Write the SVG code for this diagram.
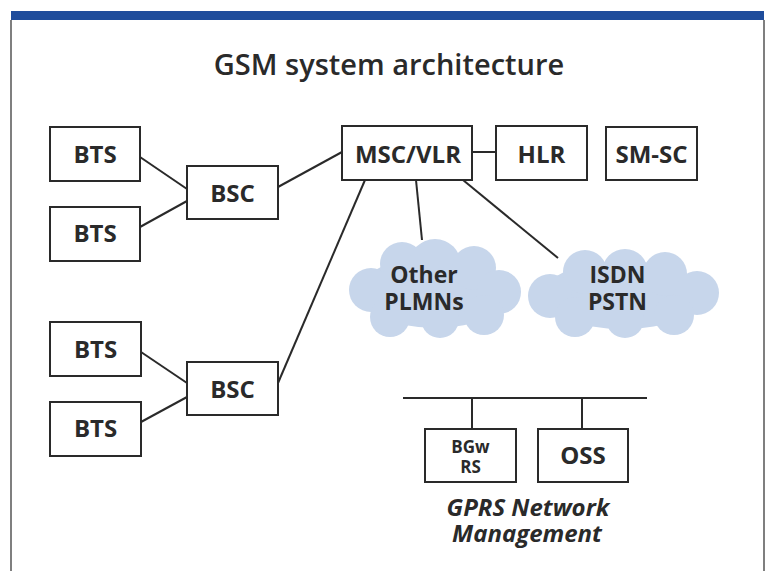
<svg xmlns="http://www.w3.org/2000/svg" width="768" height="571" viewBox="0 0 768 571">
<style>
.box{fill:#fff;stroke:#2a2a2a;stroke-width:2}
.lbl{font-family:"Open Sans","Liberation Sans",sans-serif;font-weight:700;font-size:24px;fill:#2a2a2a;text-anchor:middle}
.cl{font-size:23px}
.sm{font-size:17px}
.con{stroke:#2a2a2a;stroke-width:2;fill:none}
.cloud{fill:#c7d6eb}
.it{font-family:"Open Sans","Liberation Sans",sans-serif;font-weight:700;font-style:italic;font-size:24px;fill:#2a2a2a;text-anchor:middle}
</style>
<rect x="0" y="0" width="768" height="571" fill="#fff"/>
<g id="frame">
<rect x="11" y="11" width="753" height="9" fill="#1f4d9c"/>
<line x1="11" y1="20" x2="11" y2="571" stroke="#555" stroke-width="1.5"/>
<line x1="764" y1="20" x2="764" y2="571" stroke="#555" stroke-width="1.5"/>
</g>
<text id="title" x="389" y="75" class="lbl" style="font-size:29px;font-weight:600">GSM system architecture</text>
<g id="connectors">
<line class="con" x1="140" y1="157" x2="187" y2="189"/>
<line class="con" x1="140" y1="227" x2="187" y2="201"/>
<line class="con" x1="278" y1="187" x2="342" y2="152"/>
<line class="con" x1="472" y1="152" x2="496" y2="152"/>
<line class="con" x1="365" y1="180" x2="278" y2="383"/>
<line class="con" x1="416" y1="180" x2="422" y2="240"/>
<line class="con" x1="463" y1="180" x2="558" y2="258"/>
<line class="con" x1="141" y1="352" x2="187" y2="383"/>
<line class="con" x1="141" y1="422" x2="187" y2="397"/>
<line class="con" x1="403" y1="398" x2="647" y2="398"/>
<line class="con" x1="472" y1="398" x2="472" y2="429"/>
<line class="con" x1="582" y1="398" x2="582" y2="429"/>
</g>
<g id="bts1"><rect class="box" x="50" y="127" width="90" height="54"/><text class="lbl" x="95" y="163">BTS</text></g>
<g id="bts2"><rect class="box" x="50" y="207" width="90" height="54"/><text class="lbl" x="95" y="242">BTS</text></g>
<g id="bsc1"><rect class="box" x="187" y="166" width="91" height="53"/><text class="lbl" x="232.5" y="202">BSC</text></g>
<g id="msc"><rect class="box" x="342" y="126" width="130" height="54"/><text class="lbl" x="408" y="163">MSC/VLR</text></g>
<g id="hlr"><rect class="box" x="496" y="126" width="91" height="54"/><text class="lbl" x="541.5" y="163">HLR</text></g>
<g id="smsc"><rect class="box" x="606" y="127" width="91" height="53"/><text class="lbl" x="651.5" y="163">SM-SC</text></g>
<g id="bts3"><rect class="box" x="50" y="322" width="91" height="54"/><text class="lbl" x="95.5" y="358">BTS</text></g>
<g id="bts4"><rect class="box" x="50" y="402" width="91" height="54"/><text class="lbl" x="95.5" y="437">BTS</text></g>
<g id="bsc2"><rect class="box" x="187" y="362" width="91" height="53"/><text class="lbl" x="232.5" y="398">BSC</text></g>
<g id="other-plmns">
<g class="cloud">
<ellipse cx="435" cy="292" rx="75" ry="36"/>
<circle cx="402" cy="264" r="22"/>
<circle cx="435" cy="265" r="26"/>
<circle cx="474" cy="268" r="22"/>
<circle cx="371" cy="290" r="22"/>
<circle cx="499" cy="292" r="22"/>
<circle cx="390" cy="317" r="20"/>
<circle cx="440" cy="319" r="19"/>
<circle cx="484" cy="315" r="20"/>
</g>
<text class="lbl cl" x="424" y="283">Other</text>
<text class="lbl cl" x="424" y="310">PLMNs</text>
</g>
<g id="isdn-pstn">
<g class="cloud">
<ellipse cx="623" cy="295" rx="80" ry="34"/>
<circle cx="585" cy="272" r="22"/>
<circle cx="625" cy="272" r="23"/>
<circle cx="665" cy="274" r="22"/>
<circle cx="550" cy="296" r="22"/>
<circle cx="697" cy="293" r="22"/>
<circle cx="575" cy="317" r="20"/>
<circle cx="625" cy="319" r="19"/>
<circle cx="674" cy="315" r="20"/>
</g>
<text class="lbl cl" x="617.5" y="283">ISDN</text>
<text class="lbl cl" x="617.5" y="310">PSTN</text>
</g>
<g id="bgw-rs"><rect class="box" x="425" y="429" width="91" height="53"/><text class="lbl sm" x="470.5" y="453">BGw</text><text class="lbl sm" x="470.5" y="473">RS</text></g>
<g id="oss"><rect class="box" x="538" y="429" width="90" height="53"/><text class="lbl" x="583" y="464">OSS</text></g>
<g id="gprs-label"><text class="it" x="528" y="516">GPRS Network</text><text class="it" x="527" y="542">Management</text></g>
</svg>
